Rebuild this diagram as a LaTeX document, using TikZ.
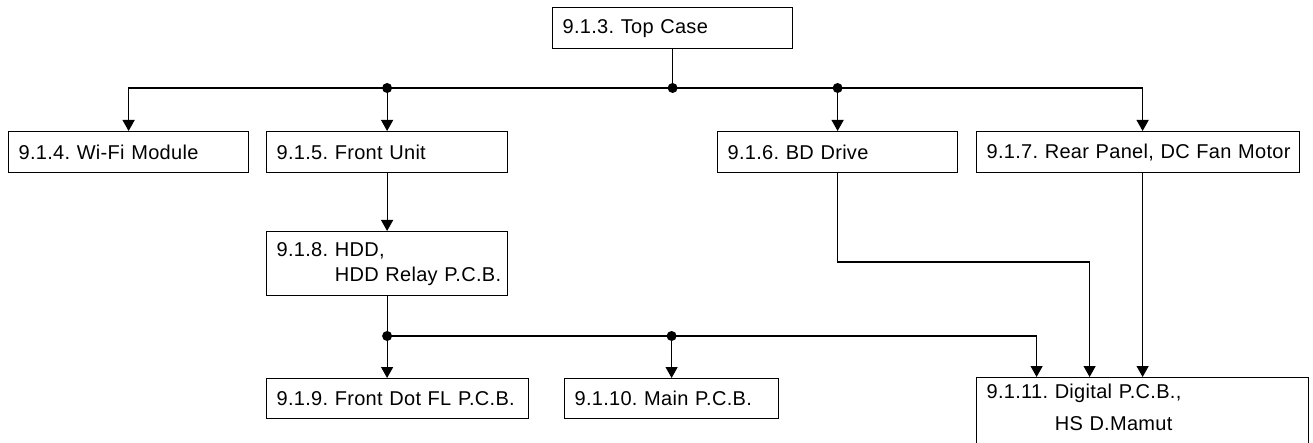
\documentclass[tikz,border=0pt]{standalone}
\usepackage{fontspec}
\setmainfont{Liberation Sans}[LetterSpace=1.5]
\usetikzlibrary{arrows.meta}
\frenchspacing
\begin{document}
\begin{tikzpicture}[x=1pt,y=-1pt,
  box/.style={draw, line width=1.2pt, anchor=north west, inner xsep=10pt, inner ysep=0pt,
    align=left, font=\fontsize{20}{25}\selectfont\frenchspacing},
  arr/.style={line width=1.2pt, -{Triangle[width=12pt,length=11pt]}},
  ln/.style={line width=1.2pt},
  dot/.style={circle, fill, inner sep=0pt, minimum size=10pt}]
\useasboundingbox[fill=white] (0,0) rectangle (1313,443);
% boxes
\node[box, text width=220pt, minimum height=41pt] (top) at (552,7) {\mbox{9.1.3. Top Case}};
\node[box, text width=220pt, minimum height=41pt] (wifi) at (8,131) {\mbox{9.1.4. Wi-Fi Module}};
\node[box, text width=221pt, minimum height=41pt] (front) at (266,131) {\mbox{9.1.5. Front Unit}};
\node[box, text width=220pt, minimum height=41pt] (bd) at (717,131) {\mbox{9.1.6. BD Drive}};
\node[box, text width=303pt, minimum height=41pt] (rear) at (976,131) {\mbox{9.1.7. Rear Panel, DC Fan Motor}};
\node[box, text width=221pt, minimum height=64pt] (hdd) at (266,231) {\mbox{9.1.8. HDD,}\\\mbox{\phantom{9.1.8. }HDD Relay P.C.B.}};
\node[box, text width=242pt, minimum height=40pt] (frontdot) at (266,378) {\mbox{9.1.9. Front Dot FL P.C.B.}};
\node[box, text width=194pt, minimum height=40pt] (main) at (564,378) {\mbox{9.1.10. Main P.C.B.}};
\node[box, text width=312pt, inner ysep=6pt, text depth=40pt] (digital) at (976,377) {\mbox{9.1.11. Digital P.C.B.,}\\[7pt]\mbox{\phantom{9.1.11. }HS D.Mamut}};
% helper levels
\coordinate (ya) at (0,88);
\coordinate (yb) at (0,336);
\coordinate (yc) at (0,262);
% top distribution
\coordinate (j0) at (top.south |- ya);
\coordinate (jf) at (front.north |- ya);
\coordinate (jb) at (bd.north |- ya);
\coordinate (dA) at ([xshift=-106pt]digital.north);
\coordinate (dB) at ([xshift=-53pt]digital.north);
\draw[ln] (top.south) -- (j0);
\draw[arr] (j0) -| (wifi.north);
\draw[arr] (j0) -| (rear.north -| digital.north);
\draw[arr] (jf) -- (front.north);
\draw[arr] (jb) -- (bd.north);
\draw[arr] (front.south) -- (hdd.north);
% lower distribution
\coordinate (j1) at (hdd.south |- yb);
\coordinate (j2) at (main.north |- yb);
\draw[ln] (hdd.south) -- (j1);
\draw[arr] (j1) -- (j1 |- frontdot.north);
\draw[arr] (j2) -- (main.north);
\draw[arr] (j1) -| (dA);
\coordinate (bdturn) at (bd.south |- yc);
\draw[arr] (bd.south) -- (bdturn) -| (dB);
\draw[arr] (rear.south -| digital.north) -- (digital.north);
% junction dots
\foreach \p in {j0,jf,jb,j1,j2} \node[dot] at (\p) {};
\end{tikzpicture}
\end{document}
